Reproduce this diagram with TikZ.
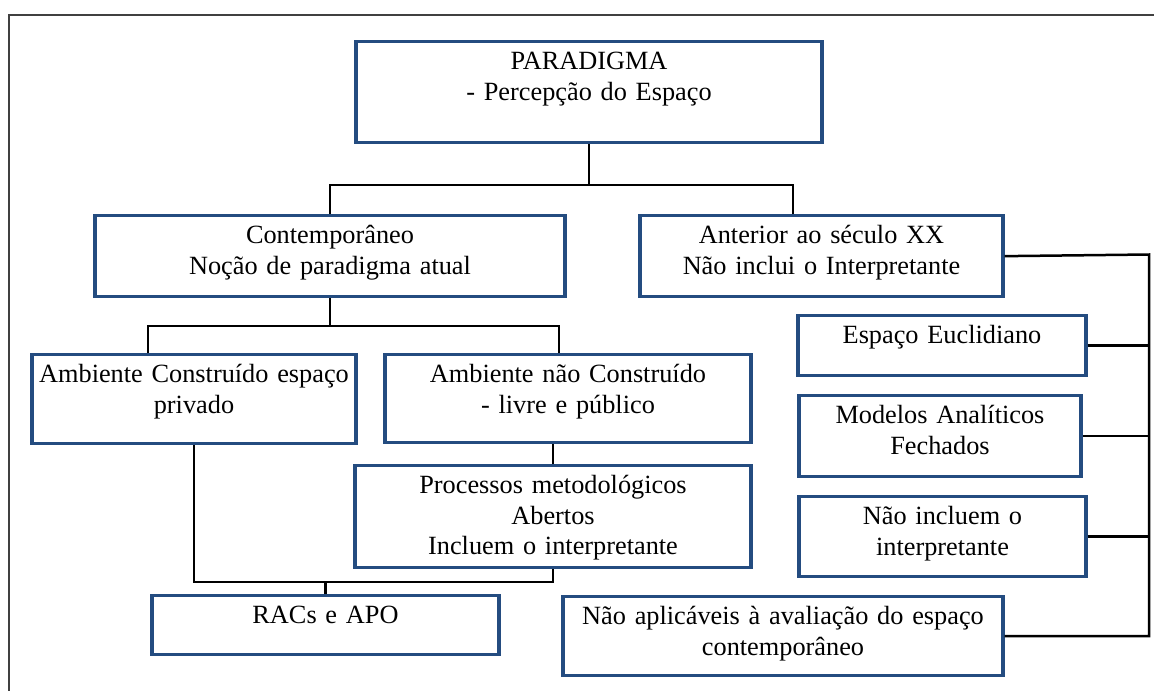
\documentclass[tikz,border=0pt]{standalone}
\usepackage{fontspec}
\setmainfont{Liberation Serif}
\usepackage{tikz}
\usetikzlibrary{positioning,calc}
\definecolor{boxblue}{RGB}{36,76,128}
\newcommand{\boxfont}{\fontsize{26.3}{30.5}\selectfont\spaceskip=4pt plus 1pt minus 1pt\relax}

\begin{document}
\begin{tikzpicture}[
  x=1pt,y=-1pt,
  every node/.style={font=\boxfont},
  box/.style={draw=boxblue,line width=3.3pt,anchor=north,align=center,
    inner xsep=0pt,inner ysep=0pt,text height=28pt},
  link/.style={draw=black,line width=2.5pt},
  frame/.style={draw=black!75,line width=1.2pt}
]
\useasboundingbox (0,0) rectangle (1154,691);

% moldura
\draw[frame] (1154,15)--(9,15)--(9,691);

% caixas
\node[box,text width=466pt,text depth=73pt] (para) at (589,40)
  {PARADIGMA\\- Percepção do Espaço};
\node[box,text width=470pt,text depth=53pt] (cont) at (330,214)
  {Contemporâneo\\Noção de paradigma atual};
\node[box,text width=363pt,text depth=53pt] (ant) at (821.5,214)
  {Anterior ao século XX\\Não inclui o Interpretante};
\node[box,text width=324pt,text depth=61pt] (amb) at (194,353)
  {Ambiente Construído espaço\\privado};
\node[box,text width=366pt,text depth=60pt] (ambn) at (568,353)
  {Ambiente não Construído\\- livre e público};
\node[box,text width=396pt,text depth=74pt] (proc) at (553,464)
  {Processos metodológicos\\Abertos\\Incluem o interpretante};
\node[box,text width=347pt,text depth=31pt] (racs) at (325.5,594)
  {RACs e APO};
\node[box,text width=288pt,text depth=32pt] (esp) at (942,314)
  {Espaço Euclidiano};
\node[box,text width=282pt,text depth=53pt] (mod) at (940,394)
  {Modelos Analíticos\\Fechados};
\node[box,text width=287pt,text depth=52pt] (naoinc) at (942.5,495)
  {Não incluem o\\interpretante};
\node[box,text width=440pt,text depth=51pt] (naoapl) at (783,595)
  {Não aplicáveis à avaliação do espaço\\contemporâneo};

% ligações de cima
\coordinate (top bus) at (589,185);
\draw[link] (para.south)--(top bus);
\draw[link] (cont.north) |- (top bus);
\draw[link] ([xshift=-28.5pt]ant.north) |- (top bus);

% ligações do contemporâneo
\coordinate (mid bus) at (330,326);
\draw[link] (cont.south)--(mid bus);
\draw[link] ([xshift=-46pt]amb.north) |- (mid bus);
\draw[link] ([xshift=-9pt]ambn.north) |- (mid bus);
\draw[link] (proc.north)--(proc.north |- ambn.south);

% ligações para RACs e APO
\coordinate (low bus) at (325.5,582);
\draw[link] (amb.south) |- (proc.south |- low bus)--(proc.south);
\draw[link] (racs.north)--(low bus);

% barra da direita
\coordinate (right bus) at (1149,254.5);
\draw[link] (ant.east)--(right bus)--(right bus |- naoapl.east)--(naoapl.east);
\foreach \n in {esp,mod,naoinc}
  \draw[link] (\n.east)--(right bus |- \n.east);
\end{tikzpicture}
\end{document}
